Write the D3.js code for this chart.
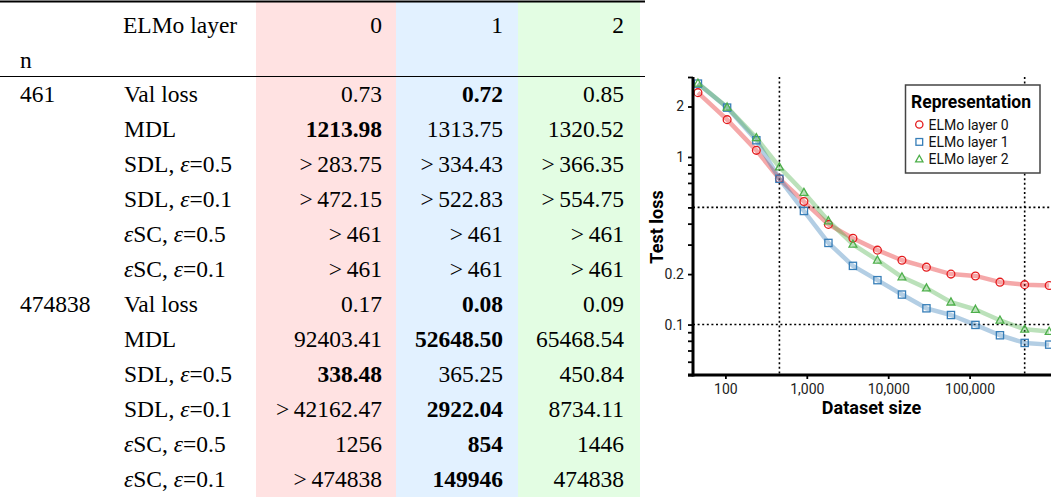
<!DOCTYPE html>
<html>
<head>
<meta charset="utf-8">
<script src="https://cdn.jsdelivr.net/npm/d3@7"></script>
<style>
html,body{margin:0;padding:0;background:#fff;}
svg{display:block;}
</style>
</head>
<body>
<svg id="c" width="1051" height="497"></svg>
<script>
// ---------- Table data ----------
const layers = ["0", "1", "2"];
const nValues = ["461", "474838"];
const metrics = ["Val loss", "MDL", "SDL, ε=0.5", "SDL, ε=0.1", "εSC, ε=0.5", "εSC, ε=0.1"];
const values461 = [
  ["0.73", "0.72", "0.85"],
  ["1213.98", "1313.75", "1320.52"],
  ["> 283.75", "> 334.43", "> 366.35"],
  ["> 472.15", "> 522.83", "> 554.75"],
  ["> 461", "> 461", "> 461"],
  ["> 461", "> 461", "> 461"]
];
const bold461 = [1, 0, -1, -1, -1, -1];
const values474838 = [
  ["0.17", "0.08", "0.09"],
  ["92403.41", "52648.50", "65468.54"],
  ["338.48", "365.25", "450.84"],
  ["> 42162.47", "2922.04", "8734.11"],
  ["1256", "854", "1446"],
  ["> 474838", "149946", "474838"]
];
const bold474838 = [1, 1, 0, 1, 1, 1];

// ---------- Chart data ----------
const datasetSizes = [46, 105, 240, 461, 922, 1844, 3688, 7376, 14752, 29504, 59008, 118016, 236032, 474838, 949676];
const layer0Loss = [2.42, 1.67, 1.095, 0.741, 0.542, 0.396, 0.327, 0.278, 0.242, 0.22, 0.2, 0.195, 0.179, 0.173, 0.171];
const layer1Loss = [2.74, 1.97, 1.258, 0.741, 0.476, 0.307, 0.224, 0.184, 0.151, 0.125, 0.114, 0.0995, 0.0863, 0.0777, 0.0759];
const layer2Loss = [2.75, 1.98, 1.30, 0.871, 0.613, 0.415, 0.301, 0.242, 0.192, 0.165, 0.136, 0.123, 0.106, 0.0937, 0.0908];
const seriesNames = ["ELMo layer 0", "ELMo layer 1", "ELMo layer 2"];
const xTickValues = [100, 1000, 10000, 100000];
const yLabelTicks = [0.1, 0.2, 1, 2];
const yMinorTicks = [0.05, 0.06, 0.07, 0.08, 0.09, 0.3, 0.4, 0.5, 0.6, 0.7, 0.8, 0.9, 3];
const refSizes = [461, 474838];
const refLosses = [0.5, 0.1];

const svg = d3.select("#c");

// ================= TABLE =================
const serif = "'Liberation Serif','Times New Roman',serif";
const colBg = ["#ffe2e2", "#e2f1ff", "#e3fde3"];
const colEdges = [256, 396, 518, 640];
const colRight = [382, 503, 624];
const tbl = svg.append("g");
layers.forEach((l, i) => {
  tbl.append("rect").attr("x", colEdges[i]).attr("y", 2)
    .attr("width", colEdges[i + 1] - colEdges[i]).attr("height", 495)
    .attr("fill", colBg[i]);
});
tbl.append("line").attr("x1", 0).attr("x2", 645).attr("y1", 1.5).attr("y2", 1.5)
  .attr("stroke", "#000").attr("stroke-width", 2.2);
tbl.append("line").attr("x1", 0).attr("x2", 645).attr("y1", 76.5).attr("y2", 76.5)
  .attr("stroke", "#000").attr("stroke-width", 1.1);

function txt(x, y, s, anchor, bold) {
  const t = tbl.append("text").attr("x", x).attr("y", y)
    .attr("font-family", serif).attr("font-size", 23.5).attr("fill", "#000")
    .attr("text-anchor", anchor || "start")
    .attr("font-weight", bold ? "bold" : "normal");
  const parts = s.replace("> ", ">\u2009").split("ε");
  parts.forEach((p, k) => {
    if (k > 0) t.append("tspan").attr("font-style", "italic").text("ε");
    if (p.length) t.append("tspan").text(p);
  });
  return t;
}
txt(123, 33, "ELMo layer");
layers.forEach((l, i) => txt(colRight[i], 33, l, "end"));
txt(20, 68, "n");

const rowH = 35;
const baseY = 102;
[[values461, bold461], [values474838, bold474838]].forEach((blk, b) => {
  const [vals, bolds] = blk;
  metrics.forEach((m, r) => {
    const y = baseY + (b * metrics.length + r) * rowH;
    if (r === 0) txt(20, y, nValues[b]);
    txt(124, y, m);
    vals[r].forEach((v, i) => txt(colRight[i], y, v, "end", bolds[r] === i));
  });
});

// ================= CHART =================
const sans = "Roboto, 'Noto Sans', sans-serif";
const x = d3.scaleLog().domain([40, 1e6]).range([693, 1051]);
const y = d3.scaleLog().domain([0.05, 3]).range([375, 77]);
const colors = ["#e41a1c", "#377eb8", "#4daf4a"];
const series = [layer0Loss, layer1Loss, layer2Loss];

const ch = svg.append("g");

refLosses.forEach(v => {
  ch.append("line").attr("x1", x.range()[0]).attr("x2", 1051)
    .attr("y1", y(v)).attr("y2", y(v))
    .attr("stroke", "#000").attr("stroke-width", 1.6).attr("stroke-dasharray", "2,2.6");
});
refSizes.forEach(v => {
  ch.append("line").attr("x1", x(v)).attr("x2", x(v))
    .attr("y1", y.range()[1]).attr("y2", y.range()[0])
    .attr("stroke", "#000").attr("stroke-width", 1.6).attr("stroke-dasharray", "2,2.6");
});

const lineGen = d3.line().x(d => x(d[0])).y(d => y(d[1]));
series.forEach((s, i) => {
  const pts = datasetSizes.map((d, k) => [d, s[k]]);
  ch.append("path").attr("d", lineGen(pts)).attr("fill", "none")
    .attr("stroke", colors[i]).attr("stroke-opacity", 0.38).attr("stroke-width", 4.5)
    .attr("stroke-linejoin", "round");
});

function marker(g, i, cx, cy, sz) {
  if (i === 0) {
    g.append("circle").attr("cx", cx).attr("cy", cy).attr("r", sz * 0.52)
      .attr("fill", "none").attr("stroke", colors[0]).attr("stroke-width", 1.3);
  } else if (i === 1) {
    g.append("rect").attr("x", cx - sz * 0.48).attr("y", cy - sz * 0.48)
      .attr("width", sz * 0.96).attr("height", sz * 0.96)
      .attr("fill", "none").attr("stroke", colors[1]).attr("stroke-width", 1.3);
  } else {
    const h = sz * 0.95;
    g.append("path")
      .attr("d", `M${cx},${cy - h * 0.6}L${cx + h * 0.55},${cy + h * 0.4}L${cx - h * 0.55},${cy + h * 0.4}Z`)
      .attr("fill", "none").attr("stroke", colors[2]).attr("stroke-width", 1.3);
  }
}
series.forEach((s, i) => {
  datasetSizes.forEach((d, k) => marker(ch, i, x(d), y(s[k]), 7.5));
});

const yAxis = ch.append("g").attr("transform", `translate(${x.range()[0]},0)`)
  .call(d3.axisLeft(y).tickValues(yLabelTicks).tickFormat(d3.format("")).tickSize(5).tickPadding(4));
const yMinor = ch.append("g").attr("transform", `translate(${x.range()[0]},0)`)
  .call(d3.axisLeft(y).tickValues(yMinorTicks).tickFormat("").tickSize(5));
yMinor.select(".domain").remove();
const xAxis = ch.append("g").attr("transform", `translate(0,${y.range()[0]})`)
  .call(d3.axisBottom(x).tickValues(xTickValues).tickFormat(d3.format(",")).tickSize(4).tickPadding(5));

[yAxis, yMinor, xAxis].forEach(a => {
  a.selectAll(".tick line").attr("stroke", "#000").attr("stroke-width", 1.8);
  a.selectAll("text").attr("font-family", sans).attr("font-size", 14).attr("fill", "#222");
});
yAxis.select(".domain").attr("stroke", "#000").attr("stroke-width", 3).attr("d", `M0,${y.range()[1]}V${y.range()[0] + 1.5}`);
xAxis.select(".domain").attr("stroke", "#000").attr("stroke-width", 3)
  .attr("d", `M${x.range()[0] - 5},0H1051`);

ch.append("text").attr("x", 871.5).attr("y", 413.5).attr("text-anchor", "middle")
  .attr("font-family", sans).attr("font-weight", "bold").attr("font-size", 18).attr("fill", "#000")
  .text("Dataset size");
ch.append("text").attr("transform", "translate(663,227) rotate(-90)").attr("text-anchor", "middle")
  .attr("font-family", sans).attr("font-weight", "bold").attr("font-size", 18).attr("fill", "#000")
  .text("Test loss");

const lg = ch.append("g");
lg.append("rect").attr("x", 905.5).attr("y", 85).attr("width", 134.5).attr("height", 88)
  .attr("fill", "#fff").attr("stroke", "#444").attr("stroke-width", 1.5);
lg.append("text").attr("x", 911).attr("y", 108)
  .attr("font-family", sans).attr("font-weight", "bold").attr("font-size", 17.5).attr("fill", "#000")
  .text("Representation");
seriesNames.forEach((nm, i) => {
  const cy = 124.5 + i * 17.4;
  marker(lg, i, 919.3, cy, 7);
  lg.append("text").attr("x", 928.5).attr("y", cy + 5)
    .attr("font-family", sans).attr("font-size", 14).attr("fill", "#111").text(nm);
});
</script>
</body>
</html>
